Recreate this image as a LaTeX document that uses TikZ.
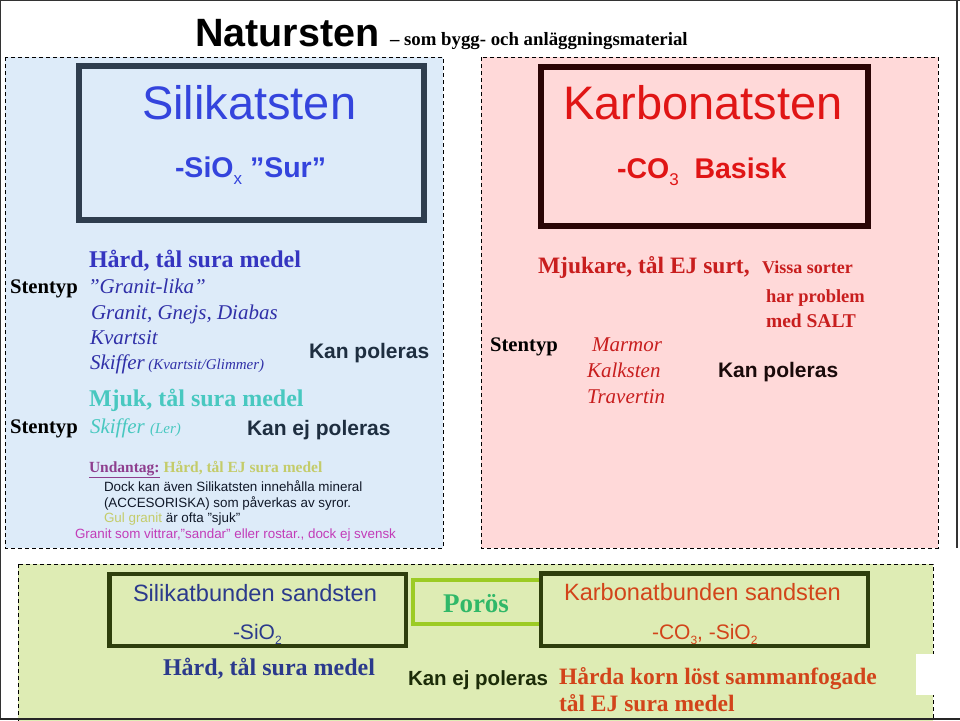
\documentclass[tikz,border=0pt]{standalone}
\usepackage{fontspec}
\setmainfont{Liberation Serif}
\setsansfont{Liberation Sans}
\definecolor{panelblue}{RGB}{221,235,249}
\definecolor{panelpink}{RGB}{255,217,217}
\definecolor{panelgreen}{RGB}{222,236,180}
\definecolor{sbord}{RGB}{46,61,78}
\definecolor{kbord}{RGB}{42,5,5}
\definecolor{gbord}{RGB}{46,62,12}
\definecolor{pbord}{RGB}{156,203,36}
\definecolor{silblue}{RGB}{52,68,221}
\definecolor{hardblue}{RGB}{53,53,192}
\definecolor{itblue}{RGB}{48,48,168}
\definecolor{slate}{RGB}{30,46,64}
\definecolor{teal}{RGB}{72,200,192}
\definecolor{purp}{RGB}{142,62,142}
\definecolor{ygreen}{RGB}{196,204,106}
\definecolor{darktxt}{RGB}{16,24,40}
\definecolor{magen}{RGB}{194,60,184}
\definecolor{karred}{RGB}{224,21,21}
\definecolor{mjred}{RGB}{200,30,30}
\definecolor{darkred}{RGB}{26,10,10}
\definecolor{bblue}{RGB}{43,58,140}
\definecolor{orng}{RGB}{210,68,26}
\definecolor{porgreen}{RGB}{48,184,104}
\definecolor{dgreen}{RGB}{28,44,8}
\newcommand{\fs}[1]{\fontsize{#1}{#1}\selectfont}
\newcommand{\subx}[2]{\raisebox{-0.28em}{\fontsize{#1}{#1}\selectfont #2}}
\tikzset{
  panel/.style={draw=black, dash pattern=on 4pt off 3pt, line width=0.9pt},
  txt/.style={anchor=base west, inner sep=0pt, outer sep=0pt},
}
\begin{document}
\begin{tikzpicture}[x=1pt,y=-1pt]
\useasboundingbox (0,0) rectangle (960,720);
\fill[white] (0,0) rectangle (960,720);
% panels
\filldraw[panel, fill=panelblue] (5,57) rectangle (443,548);
\filldraw[panel, fill=panelpink] (481,57) rectangle (938,548);
\filldraw[panel, fill=panelgreen] (18,564) rectangle (933,726);
% frame
\draw[line width=1.2pt, black!80] (0,720) -- (0,0.6) -- (960,0.6);
\draw[line width=1.2pt, black!80] (957,0) -- (957,548);
\draw[line width=1.5pt, black!85] (0,719.2) -- (960,719.2);
% title
\node[txt, font=\sffamily\bfseries\fs{39.5}] (title) at (195,46) {Natursten};
\node[txt, font=\bfseries\fs{18.8}] (subtitle) at (390,45) {– som bygg- och anläggningsmaterial};
% top boxes
\draw[draw=sbord, line width=6pt, fill=panelblue] (79,66) rectangle (424,220);
\draw[draw=kbord, line width=6pt, fill=panelpink] (541,67) rectangle (868,226);
\node[txt, font=\sffamily\fs{47}, text=silblue] (sil) at (142,119) {Silikatsten};
\node[txt, font=\sffamily\bfseries\fs{28.5}, text=silblue] (silf) at (175,177) {-SiO\subx{17}{\mdseries x} ”Sur”};
\node[txt, font=\sffamily\fs{47}, text=karred] (kar) at (563,119) {Karbonatsten};
\node[txt, font=\sffamily\bfseries\fs{28.5}, text=karred] (karf) at (617,178) {-CO\subx{17}{\mdseries 3}\ \ Basisk};
% left panel text
\node[txt, font=\bfseries\fs{24}, text=hardblue] (lh) at (89,267) {Hård, tål sura medel};
\node[txt, font=\bfseries\fs{20.7}] (ls1) at (10,293) {Stentyp};
\node[txt, font=\itshape\fs{21}, text=itblue] (lg1) at (88,293) {”Granit-lika”};
\node[txt, font=\itshape\fs{21}, text=itblue] (lg2) at (91,319) {Granit, Gnejs, Diabas};
\node[txt, font=\itshape\fs{21}, text=itblue] (lg3) at (90,344) {Kvartsit};
\node[txt, font=\itshape\fs{21}, text=itblue] (lg4) at (90,369) {Skiffer\,{\fs{15}(Kvartsit/Glimmer)}};
\node[txt, font=\sffamily\bfseries\fs{21}, text=slate] (lkp) at (309,358) {Kan poleras};
\node[txt, font=\bfseries\fs{24}, text=teal] (lm) at (89,406) {Mjuk, tål sura medel};
\node[txt, font=\bfseries\fs{20.7}] (ls2) at (10,433) {Stentyp};
\node[txt, font=\itshape\fs{21}, text=teal] (lsk) at (90,433) {Skiffer {\fs{15}(Ler)}};
\node[txt, font=\sffamily\bfseries\fs{21}, text=slate] (lkep) at (247,435) {Kan ej poleras};
\node[txt, font=\bfseries\fs{15.5}] (lu) at (89,472) {\textcolor{purp}{\underline{Undantag:}} \textcolor{ygreen}{Hård, tål EJ sura medel}};
\node[txt, font=\sffamily\fs{13.4}, text=darktxt] (ld1) at (104,491) {Dock kan även Silikatsten innehålla mineral};
\node[txt, font=\sffamily\fs{13.4}, text=darktxt] (ld2) at (104,507) {(ACCESORISKA) som påverkas av syror.};
\node[txt, font=\sffamily\fs{13.4}, text=darktxt] (ld3) at (104,522) {\textcolor{ygreen}{Gul granit} är ofta ”sjuk”};
\node[txt, font=\sffamily\fs{13.4}, text=magen] (ld4) at (75,538) {Granit som vittrar,”sandar” eller rostar., dock ej svensk};
% right panel text
\node[txt, font=\bfseries\fs{23.5}, text=mjred] (rm) at (538,273) {Mjukare, tål EJ surt,};
\node[txt, font=\bfseries\fs{18}, text=mjred] (rv) at (762,273) {Vissa sorter};
\node[txt, font=\bfseries\fs{18.5}, text=mjred] (rh) at (766,302) {har problem};
\node[txt, font=\bfseries\fs{19.5}, text=mjred] (rs) at (766,327) {med SALT};
\node[txt, font=\bfseries\fs{20.7}] (rst) at (490,351) {Stentyp};
\node[txt, font=\itshape\fs{21}, text=mjred] (rma) at (592,351) {Marmor};
\node[txt, font=\itshape\fs{21}, text=mjred] (rka) at (587,377) {Kalksten};
\node[txt, font=\itshape\fs{21}, text=mjred] (rtr) at (587,403) {Travertin};
\node[txt, font=\sffamily\bfseries\fs{21}, text=darkred] (rkp) at (718,377) {Kan poleras};
% bottom boxes
\draw[draw=pbord, line width=4pt, fill=panelgreen] (413,580) rectangle (545,624);
\draw[draw=gbord, line width=4.5pt, fill=panelgreen] (109.5,574) rectangle (406,646);
\draw[draw=gbord, line width=4.5pt, fill=panelgreen] (541,573.5) rectangle (868,646);
\node[txt, font=\sffamily\fs{23.6}, text=bblue] (bs) at (133,601) {Silikatbunden sandsten};
\node[txt, font=\sffamily\fs{21}, text=bblue] (bsf) at (233,639) {-SiO\subx{12}{2}};
\node[txt, font=\bfseries\fs{27}, text=porgreen] (por) at (443,612) {Porös};
\node[txt, font=\sffamily\fs{23.6}, text=orng] (bk) at (564,600) {Karbonatbunden sandsten};
\node[txt, font=\sffamily\fs{21}, text=orng] (bkf) at (652,639) {-CO\subx{12}{3}, -SiO\subx{12}{2}};
\node[txt, font=\bfseries\fs{24}, text=bblue] (bh) at (163,675) {Hård, tål sura medel};
\node[txt, font=\sffamily\bfseries\fs{20.5}, text=dgreen] (bkep) at (408,685) {Kan ej poleras};
\node[txt, font=\bfseries\fs{23.5}, text=orng] (bk1) at (559,684) {Hårda korn löst sammanfogade};
\node[txt, font=\bfseries\fs{23.5}, text=orng] (bk2) at (559,711) {tål EJ sura medel};
\fill[white] (916,654) rectangle (935,695);
\end{tikzpicture}
\end{document}
